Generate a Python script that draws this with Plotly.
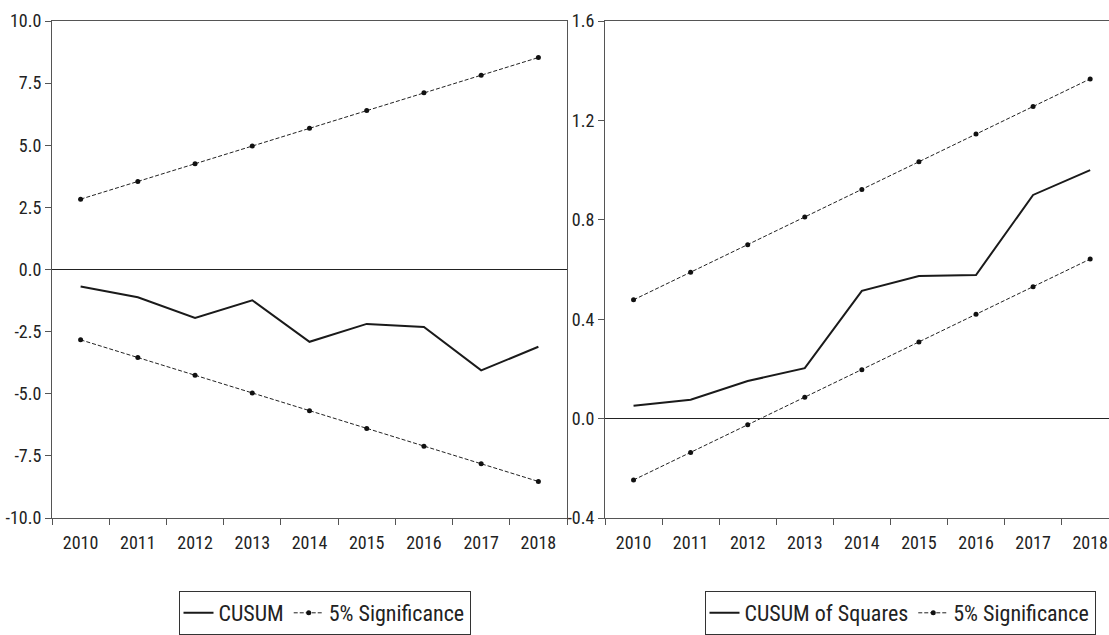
import plotly.graph_objects as go

years = ["2010", "2011", "2012", "2013", "2014", "2015", "2016", "2017", "2018"]

cusum = [-0.68, -1.12, -1.95, -1.24, -2.91, -2.19, -2.31, -4.06, -3.11]
cusum_upper = [2.83, 3.54, 4.26, 4.97, 5.68, 6.40, 7.11, 7.82, 8.53]
cusum_lower = [-2.83, -3.54, -4.26, -4.97, -5.68, -6.40, -7.11, -7.82, -8.53]

cusumsq = [0.052, 0.076, 0.151, 0.203, 0.514, 0.574, 0.578, 0.900, 1.000]
cusumsq_upper = [0.478, 0.589, 0.700, 0.811, 0.922, 1.034, 1.145, 1.256, 1.367]
cusumsq_lower = [-0.247, -0.136, -0.025, 0.086, 0.197, 0.308, 0.420, 0.531, 0.642]

left_ticks = [-10, -7.5, -5, -2.5, 0, 2.5, 5, 7.5, 10]
left_ticktext = ["-10.0", "-7.5", "-5.0", "-2.5", "0.0", "2.5", "5.0", "7.5", "10.0"]
right_ticks = [-0.4, 0.0, 0.4, 0.8, 1.2, 1.6]
right_ticktext = ["-0.4", "0.0", "0.4", "0.8", "1.2", "1.6"]

W, H = 1109, 635
FONT = "Roboto Condensed, DejaVu Sans Condensed, Arial Narrow, sans-serif"
AXC = "#555555"
TXT = "#222222"

fig = go.Figure()

solid = dict(color="#1a1a1a", width=2)
dashed = dict(color="#222222", width=1, dash="4px,2px")
mk = dict(size=5, color="#111111")

# Left panel
fig.add_trace(go.Scatter(x=years, y=cusum, mode="lines", line=solid, name="CUSUM",
                         xaxis="x", yaxis="y", legend="legend"))
fig.add_trace(go.Scatter(x=years, y=cusum_upper, mode="lines+markers", line=dashed, marker=mk,
                         name="5% Significance", legendgroup="s1", xaxis="x", yaxis="y", legend="legend"))
fig.add_trace(go.Scatter(x=years, y=cusum_lower, mode="lines+markers", line=dashed, marker=mk,
                         name="5% Significance", legendgroup="s1", showlegend=False,
                         xaxis="x", yaxis="y", legend="legend"))

# Right panel
fig.add_trace(go.Scatter(x=years, y=cusumsq, mode="lines", line=solid, name="CUSUM of Squares",
                         xaxis="x2", yaxis="y2", legend="legend2"))
fig.add_trace(go.Scatter(x=years, y=cusumsq_upper, mode="lines+markers", line=dashed, marker=mk,
                         name="5% Significance", legendgroup="s2", xaxis="x2", yaxis="y2", legend="legend2"))
fig.add_trace(go.Scatter(x=years, y=cusumsq_lower, mode="lines+markers", line=dashed, marker=mk,
                         name="5% Significance", legendgroup="s2", showlegend=False,
                         xaxis="x2", yaxis="y2", legend="legend2"))

xcommon = dict(type="category", tickson="boundaries", ticks="outside", ticklen=6, tickcolor=AXC,
               showline=True, linecolor=AXC, linewidth=1, mirror=True, showgrid=False,
               automargin=False, ticklabelstandoff=8, tickfont=dict(family=FONT, size=18, color=TXT))
ycommon = dict(ticks="outside", ticklen=6, tickcolor=AXC, showline=True, linecolor=AXC, linewidth=1,
               mirror=True, showgrid=False, zeroline=True, zerolinecolor="#222222", zerolinewidth=1,
               automargin=False, tickmode="array", tickfont=dict(family=FONT, size=18, color=TXT))

l0, l1 = 52 / W, 567 / W
r0, r1 = 605 / W, 1.0

leg_common = dict(orientation="h", xanchor="center", y=-0.147, yanchor="top",
                  bordercolor="#333333", borderwidth=1, bgcolor="white",
                  font=dict(family=FONT, size=22, color=TXT), itemwidth=30)

fig.update_layout(
    width=W, height=H,
    margin=dict(l=0, r=0, t=21, b=112),
    paper_bgcolor="white", plot_bgcolor="white",
    xaxis=dict(domain=[l0, l1], range=[-0.5, 8.5], anchor="y", **xcommon),
    yaxis=dict(domain=[0, 1], range=[-10, 10], anchor="x", tickvals=left_ticks,
               ticktext=left_ticktext, **ycommon),
    xaxis2=dict(domain=[r0, r1], range=[-0.5, 8.33], anchor="y2", **xcommon),
    yaxis2=dict(domain=[0, 1], range=[-0.4, 1.6], anchor="x2", tickvals=right_ticks,
                ticktext=right_ticktext, **ycommon),
    legend=dict(x=(183 + 466) / 2 / W, **leg_common),
    legend2=dict(x=(708 + 1092) / 2 / W, **leg_common),
)

post = (
    "var h=document.documentElement,b=document.body;"
    "h.style.margin='0';b.style.margin='0';h.style.overflow='hidden';b.style.overflow='hidden';"
    "h.style.height='635px';b.style.height='635px';"
    "var d=document.getElementById('{plot_id}');d.style.display='block';"
    "if(d.parentElement){d.parentElement.style.lineHeight='0';}"
)

fig.write_html("out.html", config={"displayModeBar": False}, post_script=post)
